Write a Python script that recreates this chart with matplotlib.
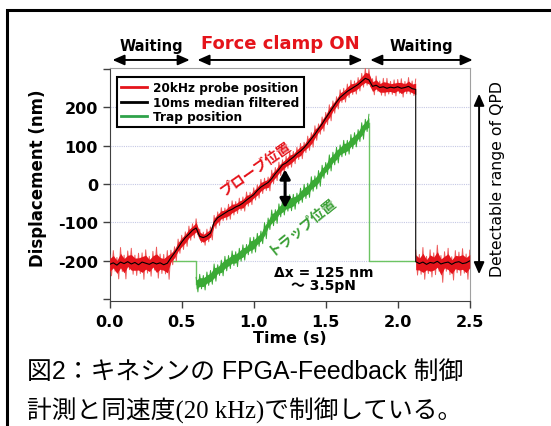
import numpy as np
import matplotlib
matplotlib.use('Agg')
import matplotlib.pyplot as plt
from matplotlib.lines import Line2D
from matplotlib.patches import Rectangle

# ---------------------------------------------------------#
# Data (nm vs s)                       #
# ---------------------------------------------------------#
dt = 0.025

# probe, force clamp + first waiting part (t = 0 ... 2.125)
probe_mid_a = [-210, -206, -212, -204, -208, -203, -209, -205, -211, -204,
               -207, -210, -205, -209, -206, -211, -207, -193, -180, -166,
               -152, -140, -131, -121, -115, -137, -140, -136, -128, -100,
               -88, -82, -76, -70, -66, -60, -56, -50, -42, -35,
               -28, -17, -8, -2, 4, 14, 27, 38, 50, 55,
               63, 70, 79, 86, 95, 106, 118, 130, 144, 157,
               172, 186, 200, 214, 226, 234, 242, 248, 254, 260,
               268, 276, 272, 255, 258, 252, 254, 250, 253, 251,
               254, 250, 252, 255, 249, 247]
probe_up_a = [25, 32, 20, 38, 22, 28, 41, 19, 30, 24, 35, 21, 29, 44, 23, 27, 33,
              20, 16, 22, 18, 15, 21, 17, 24,
              19, 14, 18, 16,
              18, 15, 20, 13, 17, 22, 14, 19, 16, 21, 13, 18, 15, 20, 17, 14, 22,
              16, 19, 13, 18, 21, 15, 17, 20, 14, 19, 16, 22, 13, 18, 15, 21, 17,
              14, 20, 16, 19, 23, 15, 18, 21, 26,
              28, 20, 24, 17, 22, 26, 15, 21, 19, 25, 16, 23, 20, 27]
probe_dn_a = [30, 22, 36, 25, 40, 21, 27, 34, 23, 45, 26, 31, 20, 37, 28, 24, 42,
              18, 21, 15, 19, 23, 16, 20, 17,
              16, 20, 15, 18,
              16, 20, 14, 18, 22, 15, 17, 13, 21, 16, 19, 14, 20, 17, 15, 22, 13,
              18, 16, 21, 14, 19, 17, 15, 20, 13, 18, 22, 16, 14, 19, 17, 21, 15,
              18, 13, 20, 16, 14, 19, 17, 15, 18,
              18, 22, 16, 20, 24, 15, 19, 21, 17, 23, 16, 20, 18, 22]

# probe after release (t = 2.125 ... 2.5)
probe_mid_b = [-203, -208, -204, -210, -205, -207, -202, -209, -206, -204,
               -210, -205, -203, -208, -206, -201]
probe_up_b = [30, 24, 38, 21, 33, 27, 42, 22, 29, 36, 20, 31, 25, 39, 23, 28]
probe_dn_b = [35, 28, 45, 24, 38, 30, 26, 48, 22, 33, 41, 27, 36, 25, 43, 30]

# trap position while clamp is on (t = 0.6 ... 1.8)
t_on, t_off, t_end = 0.6, 1.8, 2.5
trap_wait = -200
trap_mid = [-262, -258, -254, -250, -243, -233, -225, -218, -210, -203,
            -198, -192, -186, -179, -172, -162, -156, -148, -138, -122,
            -105, -92, -80, -70, -62, -56, -50, -44, -38, -30,
            -22, -14, -4, 6, 17, 29, 42, 54, 66, 77,
            86, 93, 99, 106, 116, 128, 140, 152, 160]
trap_up = [18, 22, 15, 20, 17, 24, 14, 19, 21, 16, 23, 15, 18, 20, 14, 22, 17,
           19, 15, 21, 16, 24, 13, 18, 20, 15, 22, 17, 14, 19, 21, 16, 23, 15,
           18, 20, 14, 22, 17, 19, 16, 21, 15, 23, 18, 14, 20, 17, 22]
trap_dn = [20, 16, 23, 15, 19, 21, 14, 22, 17, 18, 15, 24, 16, 20, 13, 19, 22,
           15, 18, 21, 14, 17, 23, 16, 19, 15, 20, 22, 14, 18, 16, 21, 15, 19,
           23, 14, 17, 20, 16, 22, 15, 18, 21, 14, 19, 17, 23, 15, 20]

phases = [(0.0, 0.575, 'Waiting'), (0.59, 1.775, 'Force clamp ON'),
          (1.79, 2.54, 'Waiting')]
legend_labels = ['20kHz probe position', '10ms median filtered', 'Trap position']

# ---------------------------------------------------------#
# Colours / fonts                                          #
# ---------------------------------------------------------#
c_red = '#e5141b'
c_red_light = '#ee5a5a'
c_green = '#3aaa35'
c_green_light = '#6cc463'
cjk = ['DejaVu Sans', 'Noto Sans CJK JP']


def zigzag(t, m, up, dn):
    # noisy trace drawn between the read envelope values
    x = np.column_stack([t, t + dt / 2]).ravel()
    y = np.column_stack([m + np.array(up), m - np.array(dn)]).ravel()
    return x[:-1], y[:-1]


# ---------------------------------------------------------#
# Arrays                                                   #
# ---------------------------------------------------------#
ta = np.arange(len(probe_mid_a)) * dt
tb = ta[-1] + np.arange(len(probe_mid_b)) * dt
tt = t_on + np.arange(len(trap_mid)) * dt
pa, pb, tm = np.array(probe_mid_a), np.array(probe_mid_b), np.array(trap_mid)

# ---------------------------------------------------------#
# Plot                                                     #
# ---------------------------------------------------------#
fig = plt.figure(figsize=(5.51, 4.27), dpi=100)
ax = fig.add_axes([0.1991, 0.2934, 0.6534, 0.545])

for y in [-200, -100, 0, 100, 200]:
    ax.axhline(y, color='#c5c8e4', lw=0.8, ls=(0, (1, 1)), zorder=0)

# trap
ax.plot([0, t_on, t_on], [trap_wait, trap_wait, tm[0]], color=c_green_light, lw=1, zorder=1)
ax.plot([t_off, t_off, t_end], [tm[-1], trap_wait, trap_wait], color=c_green_light, lw=1, zorder=1)
ax.fill_between(tt, tm - 0.6 * np.array(trap_dn), tm + 0.6 * np.array(trap_up),
                color=c_green, lw=0, zorder=2)
zx, zy = zigzag(tt, tm, trap_up, trap_dn)
ax.plot(zx, zy, color=c_green, lw=0.7, zorder=2)

# probe
for t, m, up, dn in [(ta, pa, probe_up_a, probe_dn_a), (tb, pb, probe_up_b, probe_dn_b)]:
    zx, zy = zigzag(t, m, up, dn)
    ax.plot(zx, zy, color=c_red_light, lw=0.7, zorder=3)
    ax.fill_between(t, m - 0.6 * np.array(dn), m + 0.6 * np.array(up), color=c_red, lw=0, zorder=3)
ax.plot(np.concatenate([ta, tb]), np.concatenate([pa, pb]), color='black', lw=0.8, zorder=4)

ax.set_xlim(0, 2.5)
ax.set_ylim(-305, 303)
ax.set_xticks([0.0, 0.5, 1.0, 1.5, 2.0, 2.5])
ax.set_xticklabels(['0.0', '0.5', '1.0', '1.5', '2.0', '2.5'])
ax.set_yticks([-300, -200, -100, 0, 100, 200, 300])
ax.set_yticklabels(['', '-200', '-100', '0', '100', '200', ''])
ax.tick_params(direction='out', length=5, width=1, labelsize=11.5, color='#404040')
ax.tick_params(axis='x', pad=4.5)
for lab in ax.get_xticklabels() + ax.get_yticklabels():
    lab.set_fontweight('bold')
ax.spines['left'].set_color('#404040')
ax.spines['bottom'].set_color('#404040')
ax.spines['top'].set_color('#a0a0a0')
ax.spines['right'].set_color('#a0a0a0')

ax.set_xlabel('Time (s)', fontsize=11.5, fontweight='bold')
ax.xaxis.set_label_coords(0.5, -0.125)
ax.set_ylabel('Displacement (nm)', fontsize=12, fontweight='bold')
ax.yaxis.set_label_coords(-0.175, 0.53)

handles = [Line2D([], [], color=c_red, lw=2), Line2D([], [], color='black', lw=2),
           Line2D([], [], color='#2fa24a', lw=2)]
leg = ax.legend(handles, legend_labels, loc='upper left', bbox_to_anchor=(0.02, 0.961),
                borderaxespad=0, fancybox=False, framealpha=1, edgecolor='black',
                prop={'weight': 'bold', 'size': 8.7}, handlelength=2.1,
                handletextpad=0.55, labelspacing=0.12, borderpad=0.35)
leg.get_frame().set_linewidth(1.5)

# annotations inside
ax.annotate('', xy=(1.218, 45), xytext=(1.218, -70),
            arrowprops=dict(arrowstyle='<|-|>,head_length=0.45,head_width=0.25',
                            color='black', lw=2.2, mutation_scale=12), zorder=6)
ax.text(1.014, 42, 'プローブ位置', color=c_red, fontsize=10, fontweight='bold',
        family=cjk[::-1], rotation=35, ha='center', va='center', zorder=6)
ax.text(1.333, -106, 'トラップ位置', color='#3a9f35', fontsize=10, fontweight='bold',
        family=cjk[::-1], rotation=39, ha='center', va='center', zorder=6)
ax.text(1.484, -231, 'Δx = 125 nm', fontsize=10, fontweight='bold',
        family=cjk, ha='center', va='center', zorder=6)
ax.text(1.484, -265, '～ 3.5pN', fontsize=10, fontweight='bold',
        family=cjk, ha='center', va='center', zorder=6)

# phases above the axes
for x0, x1, name in phases:
    ax.annotate('', xy=(x0, 324), xytext=(x1, 324), annotation_clip=False,
                arrowprops=dict(arrowstyle='<|-|>,head_length=0.5,head_width=0.22',
                                color='black', lw=1.4, mutation_scale=14))
    if name == 'Waiting':
        ax.text((x0 + x1) / 2, 362, name, fontsize=10.5, fontweight='bold',
                ha='center', va='center', clip_on=False)
    else:
        ax.text((x0 + x1) / 2, 368, name, fontsize=13, fontweight='bold',
                color=c_red, ha='center', va='center', clip_on=False)

# detectable range, right side
ax.annotate('', xy=(2.565, 243), xytext=(2.565, -243), annotation_clip=False,
            arrowprops=dict(arrowstyle='<|-|>,head_length=0.5,head_width=0.22',
                            color='black', lw=1.4, mutation_scale=14))
ax.text(2.69, 16, 'Detectable range of QPD', fontsize=11.3, rotation=90,
        ha='center', va='center', clip_on=False)

# caption + frame
fig.text(0.049, 0.129, '図2：キネシンの FPGA-Feedback 制御', fontsize=17.9,
         family=['Liberation Sans', 'Noto Sans CJK JP'], ha='left', va='center')
fig.text(0.049, 0.038, '計測と同速度(20 kHz)で制御している。', fontsize=17.8,
         family=['Liberation Serif', 'Noto Sans CJK JP'], ha='left', va='center')
fig.add_artist(Rectangle((7 / 551, -0.1), 1.2, (416 / 427) + 0.1, transform=fig.transFigure,
                         fill=False, edgecolor='black', lw=2.2, clip_on=False))

fig.savefig('out.png', dpi=100)
